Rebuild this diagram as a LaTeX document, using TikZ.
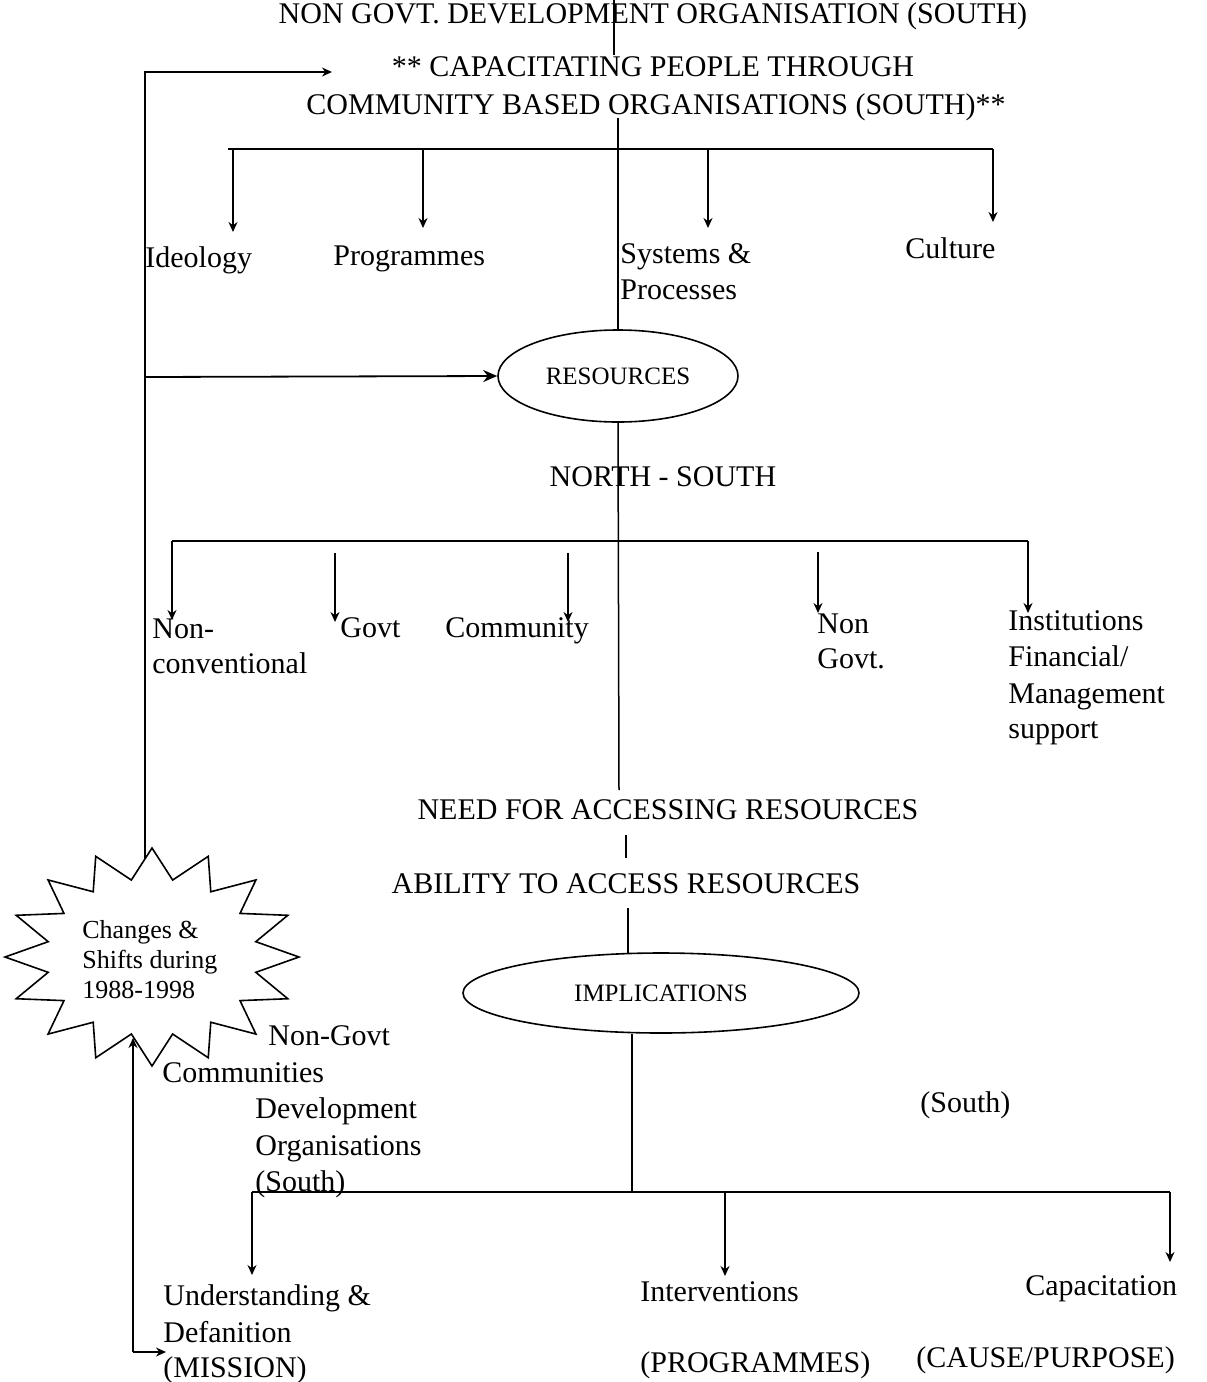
\documentclass[tikz,border=0pt]{standalone}
\usepackage{fontspec}
\setmainfont{Liberation Serif}
\usetikzlibrary{arrows.meta,shapes.geometric}
\begin{document}
\begin{tikzpicture}[x=0.5pt,y=-0.5pt,
  txt/.style={inner sep=0pt, font=\fontsize{15}{18}\selectfont, anchor=base west},
  ctxt/.style={inner sep=0pt, font=\fontsize{15}{18}\selectfont, anchor=base},
  stxt/.style={inner sep=0pt, font=\fontsize{13}{15}\selectfont, anchor=base west},
  bar/.style={line width=1.2pt},
  link/.style={line width=0.75pt},
  arr/.style={line width=0.75pt, -{Stealth[length=5pt,width=4.5pt]}},
  bigarr/.style={line width=0.9pt, -{Stealth[length=7pt,width=6pt]}},
  oval/.style={ellipse, draw, line width=0.8pt, font=\fontsize{12.5}{15}\selectfont, inner sep=0pt}
]
\useasboundingbox (0,0) rectangle (1206,1382);

% ---------- texts ----------
\node[ctxt] (title) at (653,23) {NON GOVT. DEVELOPMENT ORGANISATION (SOUTH)};
\node[ctxt] (cap1) at (653,76) {** CAPACITATING PEOPLE THROUGH};
\node[ctxt] (cap2) at (656,114) {COMMUNITY BASED ORGANISATIONS (SOUTH)**};

\node[txt] (ideo) at (145,267) {Ideology};
\node[txt] (prog) at (333,265) {Programmes};
\node[txt] (sys1) at (620,263) {Systems \&};
\node[txt] (sys2) at (620,299) {Processes};
\node[txt] (cult) at (905,258) {Culture};

\node[oval, minimum width=120pt, minimum height=46pt] (res) at (618,376) {RESOURCES};
\node[ctxt] (ns) at (663,486) {NORTH - SOUTH};

\node[txt] (nc1) at (152,638) {Non-};
\node[txt] (nc2) at (152,673) {conventional};
\node[txt] (govt) at (340,637) {Govt};
\node[txt] (comm) at (445,637) {Community};
\node[txt] (ng1) at (817,633) {Non};
\node[txt] (ng2) at (817,668) {Govt.};
\node[txt] (in1) at (1008,630) {Institutions};
\node[txt] (in2) at (1008,666) {Financial/};
\node[txt] (in3) at (1008,703) {Management};
\node[txt] (in4) at (1008,738) {support};

\node[ctxt] (need) at (668,819) {NEED FOR ACCESSING RESOURCES};
\node[ctxt] (abil) at (626,893) {ABILITY TO ACCESS RESOURCES};
\node[oval, minimum width=198pt, minimum height=40pt] (impl) at (661,993) {IMPLICATIONS};

% star
\draw[line width=0.8pt, fill=white]
  plot[variable=\k, samples at={0,...,31}]
  ({152+147*(1-0.28*mod(\k,2))*cos(90+\k*11.25)},
   {957-109*(1-0.28*mod(\k,2))*sin(90+\k*11.25)}) -- cycle;
\node[stxt] (st1) at (82,938) {Changes \&};
\node[stxt] (st2) at (82,968) {Shifts during};
\node[stxt] (st3) at (82,998) {1988-1998};

\node[txt] (nd1) at (268,1045) {Non-Govt};
\node[txt] (nd2) at (162,1082) {Communities};
\node[txt] (nd3) at (255,1118) {Development};
\node[txt] (nd4) at (255,1155) {Organisations};
\node[txt] (nd5) at (255,1191) {(South)};
\node[txt] (south) at (920,1112) {(South)};

\node[txt] (un1) at (163,1305) {Understanding \&};
\node[txt] (un2) at (163,1342) {Defanition};
\node[txt] (un3) at (163,1377) {(MISSION)};
\node[txt] (intv) at (640,1301) {Interventions};
\node[txt] (capa) at (1025,1295) {Capacitation};
\node[txt] (progs) at (640,1372) {(PROGRAMMES)};
\node[txt] (cause) at (916,1367) {(CAUSE/PURPOSE)};

% ---------- coordinates ----------
\coordinate (c0) at (614,0);
\coordinate (c1) at (614,55);
\coordinate (c2) at (618,118);
\coordinate (c3) at (619,790);
\coordinate (c4) at (626,835);
\coordinate (c5) at (626,858);
\coordinate (c6) at (628,908);
\coordinate (c7) at (628,953);
\coordinate (c8) at (632,1034);

\coordinate (b1l) at (228,149); \coordinate (b1r) at (993,149);
\coordinate (b2l) at (172,541); \coordinate (b2r) at (1028,541);
\coordinate (b3l) at (252,1192); \coordinate (b3r) at (1170,1192);
\coordinate (b3c) at (632,1192);

\coordinate (L0) at (145,72);
\coordinate (Lt) at (332,72);
\coordinate (Lm) at (145,377);
\coordinate (startop) at (145,859);
\coordinate (B0) at (133,1352);
\coordinate (starbot) at (133,1038);
\coordinate (Bt) at (166,1352);

% ---------- central spine ----------
\draw[link] (c0) -- (c1);
\draw[link] (c2) -- (res.north);
\draw[link] (res.south) -- (c3);
\draw[link] (c4) -- (c5);
\draw[link] (c6) -- (c7);
\draw[link] (c8) -- (b3c);

% ---------- bar 1 ----------
\draw[bar] (b1l) -- (b1r);
\coordinate (a1) at (233,149); \coordinate (t1) at (233,232);
\coordinate (a2) at (423,149); \coordinate (t2) at (423,228);
\coordinate (a3) at (708,149); \coordinate (t3) at (708,228);
\coordinate (t4) at (993,222);
\draw[arr] (a1) -- (t1);
\draw[arr] (a2) -- (t2);
\draw[arr] (a3) -- (t3);
\draw[arr] (b1r) -- (t4);

% ---------- bar 2 ----------
\draw[bar] (b2l) -- (b2r);
\coordinate (e1) at (172,620);
\coordinate (d2) at (335,553); \coordinate (e2) at (335,622);
\coordinate (d3) at (568,553); \coordinate (e3) at (568,622);
\coordinate (d4) at (818,552); \coordinate (e4) at (818,613);
\coordinate (e5) at (1028,613);
\draw[arr] (b2l) -- (e1);
\draw[arr] (d2) -- (e2);
\draw[arr] (d3) -- (e3);
\draw[arr] (d4) -- (e4);
\draw[arr] (b2r) -- (e5);

% ---------- bar 3 ----------
\draw[bar] (b3l) -- (b3r);
\coordinate (f1) at (252,1275);
\coordinate (g2) at (725,1192); \coordinate (f2) at (725,1276);
\coordinate (f3) at (1170,1262);
\draw[arr] (b3l) -- (f1);
\draw[arr] (g2) -- (f2);
\draw[arr] (b3r) -- (f3);

% ---------- left feedback loop ----------
\draw[arr] (startop) -- (L0) -- (Lt);
\draw[bigarr] (Lm) -- (res.west);
\draw[arr] (B0) -- (starbot);
\draw[arr] (B0) -- (Bt);
\end{tikzpicture}
\end{document}
